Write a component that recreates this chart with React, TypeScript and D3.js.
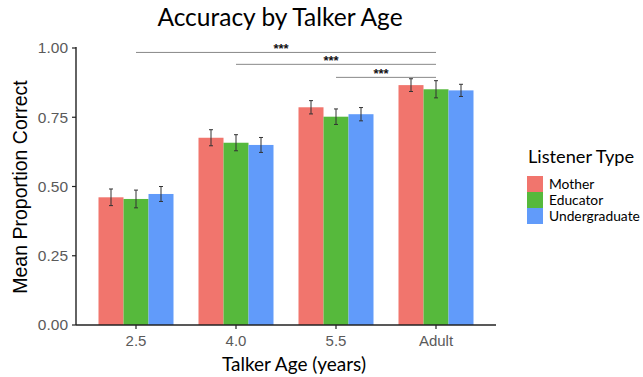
import React from 'react';
import * as d3 from 'd3';

// talker ages on the x axis and the three listener groups
const ages = ['2.5', '4.0', '5.5', 'Adult'];
const listeners = ['Mother', 'Educator', 'Undergraduate'];
const colors = ['#F1756D', '#56B93C', '#619BFA'];

// mean proportion correct, one row per listener type (same order as ages)
const mother = [0.461, 0.676, 0.786, 0.866];
const educator = [0.455, 0.658, 0.752, 0.851];
const undergrad = [0.473, 0.65, 0.761, 0.847];

// half width of error bars
const motherErr = [0.03, 0.029, 0.024, 0.023];
const educatorErr = [0.032, 0.029, 0.028, 0.031];
const undergradErr = [0.027, 0.027, 0.024, 0.022];

const yTicks = [0, 0.25, 0.5, 0.75, 1];

// significance brackets: from age, to age, height
const sigFrom = ['2.5', '4.0', '5.5'];
const sigTo = ['Adult', 'Adult', 'Adult'];
const sigY = [0.984, 0.941, 0.894];
const sigLabel = ['***', '***', '***'];

const W = 643;
const H = 377;
const left = 76;
const right = 496;
const top = 47;
const bottom = 325;

const sans = '"Liberation Sans", Arial, sans-serif';
const calib = 'Lato, "Open Sans", sans-serif';

export default function App() {
  const values = [mother, educator, undergrad];
  const errs = [motherErr, educatorErr, undergradErr];

  const x = d3.scalePoint<string>().domain(ages).range([left, right]).padding(0.6);
  const y = d3.scaleLinear().domain([0, 1]).range([bottom, bottom - 277]);
  const groupW = x.step() * 0.75;
  const inner = d3.scaleBand<string>().domain(listeners).range([-groupW / 2, groupW / 2]);

  return (
    <svg width={W} height={H} style={{ position: 'absolute', left: 0, top: 0, background: '#fff' }}>
      <text x={280} y={26} textAnchor="middle" fontFamily={calib} fontSize={24.5} fill="#000">
        Accuracy by Talker Age
      </text>

      {/* bars */}
      {listeners.map((l, i) =>
        ages.map((a, j) => (
          <rect
            key={l + a}
            x={(x(a) as number) + (inner(l) as number)}
            y={y(values[i][j])}
            width={inner.bandwidth()}
            height={y(0) - y(values[i][j])}
            fill={colors[i]}
          />
        ))
      )}

      {/* error bars */}
      {listeners.map((l, i) =>
        ages.map((a, j) => {
          const cx = (x(a) as number) + (inner(l) as number) + inner.bandwidth() / 2;
          const y0 = y(values[i][j] - errs[i][j]);
          const y1 = y(values[i][j] + errs[i][j]);
          return (
            <g key={'e' + l + a} stroke="#333" strokeWidth={1}>
              <line x1={cx} x2={cx} y1={y0} y2={y1} />
              <line x1={cx - 2} x2={cx + 2} y1={y0} y2={y0} />
              <line x1={cx - 2} x2={cx + 2} y1={y1} y2={y1} />
            </g>
          );
        })
      )}

      {/* significance */}
      {sigFrom.map((f, i) => {
        const x0 = x(f) as number;
        const x1 = x(sigTo[i]) as number;
        return (
          <g key={'s' + i}>
            <line x1={x0} x2={x1} y1={y(sigY[i])} y2={y(sigY[i])} stroke="#888" strokeWidth={1} />
            <text x={(x0 + x1) / 2 - 5} y={y(sigY[i]) + 1} textAnchor="middle" fontFamily={sans} fontSize={13} fontWeight="bold" fill="#111">
              {sigLabel[i]}
            </text>
          </g>
        );
      })}

      {/* y axis */}
      <line x1={left} x2={left} y1={top} y2={bottom} stroke="#222" strokeWidth={1.4} />
      {yTicks.map((t) => (
        <g key={'y' + t}>
          <line x1={left - 4} x2={left} y1={y(t)} y2={y(t)} stroke="#222" strokeWidth={1.2} />
          <text x={left - 8} y={y(t)} dy="0.35em" textAnchor="end" fontFamily={sans} fontSize={15.5} fill="#5a5a5a">
            {d3.format('.2f')(t)}
          </text>
        </g>
      ))}
      <text
        transform={`translate(27,${(top + bottom) / 2 + 1}) rotate(-90)`}
        textAnchor="middle"
        fontFamily={sans}
        fontSize={19.5}
        fill="#000"
      >
        Mean Proportion Correct
      </text>

      {/* x axis */}
      <line x1={left} x2={right} y1={bottom} y2={bottom} stroke="#222" strokeWidth={1.4} />
      {ages.map((a) => (
        <g key={'x' + a}>
          <line x1={x(a)} x2={x(a)} y1={bottom} y2={bottom + 4} stroke="#222" strokeWidth={1.2} />
          <text x={x(a)} y={bottom + 21} textAnchor="middle" fontFamily={sans} fontSize={15} fill="#5a5a5a">
            {a}
          </text>
        </g>
      ))}
      <text x={294} y={371} textAnchor="middle" fontFamily={calib} fontSize={19} fill="#000">
        Talker Age (years)
      </text>

      {/* legend */}
      <text x={528} y={163} fontFamily={calib} fontSize={18.2} fill="#000">
        Listener Type
      </text>
      {listeners.map((l, i) => (
        <g key={'l' + l}>
          <rect x={527} y={176 + i * 16} width={16} height={16} fill={colors[i]} />
          <text x={549} y={184 + i * 16} dy="0.35em" fontFamily={calib} fontSize={13.8} fill="#000">
            {l}
          </text>
        </g>
      ))}
    </svg>
  );
}
